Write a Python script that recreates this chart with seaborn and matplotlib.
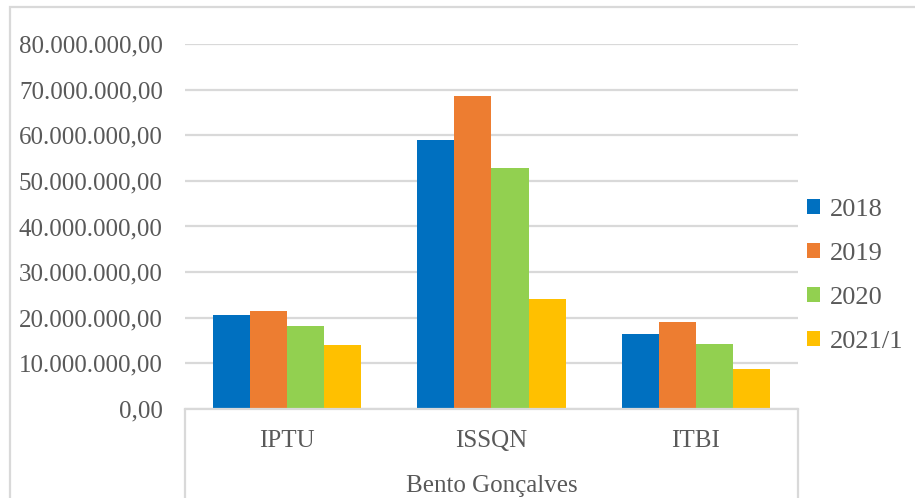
import pandas as pd
import numpy as np
import matplotlib
matplotlib.use("Agg")
import matplotlib.pyplot as plt
import seaborn as sns
from matplotlib.ticker import FuncFormatter, MultipleLocator
from matplotlib.patches import Rectangle
from matplotlib.lines import Line2D

# data (R$)
tributos = ["IPTU", "ISSQN", "ITBI"]
anos = ["2018", "2019", "2020", "2021/1"]
valores_2018 = [20.6e6, 58.9e6, 16.4e6]
valores_2019 = [21.4e6, 68.5e6, 19.1e6]
valores_2020 = [18.2e6, 52.8e6, 14.3e6]
valores_2021 = [14.0e6, 24.1e6, 8.7e6]
municipio = "Bento Gonçalves"

cores = ["#0070C0", "#ED7D31", "#92D050", "#FFC000"]
cinza_texto = "#595959"
cinza_linha = "#D9D9D9"

# build long table for seaborn
df = pd.DataFrame({
    "tributo": tributos * 4,
    "ano": np.repeat(anos, 3),
    "valor": valores_2018 + valores_2019 + valores_2020 + valores_2021,
})

sns.set_style("white")
plt.rcParams["font.family"] = ["Liberation Serif", "DejaVu Serif"]

fig = plt.figure(figsize=(9.15, 4.98), dpi=100)
ax = fig.add_axes([185 / 915, 1 - 409 / 498, (798 - 185) / 915, (409 - 44) / 498])

sns.barplot(data=df, x="tributo", y="valor", hue="ano", order=tributos,
            hue_order=anos, palette=cores, width=0.725, gap=0,
            linewidth=0, saturation=1, ax=ax)

ax.set_ylim(0, 80e6)
ax.set_xlim(-0.5, 2.5)
ax.yaxis.set_major_locator(MultipleLocator(10e6))


def formato_br(v, pos):
    s = f"{v:,.2f}"
    return s.replace(",", "X").replace(".", ",").replace("X", ".")


ax.yaxis.set_major_formatter(FuncFormatter(formato_br))
ax.grid(axis="y", color=cinza_linha, linewidth=1.6)
ax.set_axisbelow(True)
for lado in ["left", "right", "top"]:
    ax.spines[lado].set_visible(False)
ax.spines["bottom"].set_color(cinza_linha)
ax.spines["bottom"].set_linewidth(1.6)

ax.tick_params(axis="y", length=0, pad=16, labelsize=18, labelcolor=cinza_texto)
ax.tick_params(axis="x", length=0, pad=15, labelsize=18, labelcolor=cinza_texto)
ax.set_ylabel("")
ax.set_xlabel(municipio, fontsize=18, color=cinza_texto, labelpad=17)

# category box below the axis
for xa in [0, 1]:
    ax.add_line(Line2D([xa, xa], [0, -0.4], transform=ax.transAxes,
                       color=cinza_linha, linewidth=1.6, clip_on=False))

# legend on the right
ax.legend(loc="center left", bbox_to_anchor=(807 / 915, 1 - 276 / 498),
          bbox_transform=fig.transFigure, frameon=False, fontsize=19,
          handlelength=0.5, handleheight=0.5, handletextpad=0.35,
          labelspacing=0.84, borderaxespad=0, borderpad=0,
          labelcolor=cinza_texto)

# outer chart frame
fig.patches.append(Rectangle((10 / 915, -0.1), 1.0, 1 - 7 / 498 + 0.1,
                             transform=fig.transFigure, fill=False,
                             edgecolor=cinza_linha, linewidth=1.6))

fig.savefig("out.png", dpi=100)
